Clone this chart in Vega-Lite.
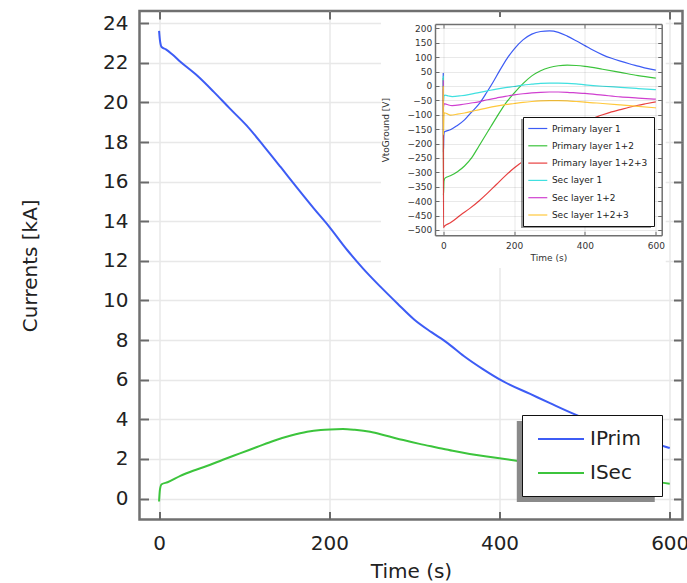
{
  "$schema": "https://vega.github.io/schema/vega-lite/v6.json",
  "width": 543,
  "height": 508.5,
  "autosize": {"type": "none"},
  "padding": {"left": 139.5, "top": 11, "right": 4.5, "bottom": 63.5},
  "background": "white",
  "config": {
    "font": "DejaVu Sans",
    "view": {"stroke": "#707070", "strokeWidth": 2.5},
    "axis": {"labelFont": "DejaVu Sans", "titleFont": "DejaVu Sans", "titleFontWeight": "normal", "labelColor": "#222", "titleColor": "#222", "tickColor": "#6a6a6a", "domainColor": "#707070", "labelOverlap": false, "labelFlush": false, "gridColor": "#e8e8e8"},
    "legend": {"labelFont": "DejaVu Sans", "labelColor": "#222"}
  },
  "datasets": {
    "currents": [
      {"t": 0, "I": 23.62, "s": "IPrim"}, {"t": 1, "I": 23.15, "s": "IPrim"}, {"t": 3, "I": 22.8, "s": "IPrim"}, {"t": 8, "I": 22.68, "s": "IPrim"},
      {"t": 15, "I": 22.45, "s": "IPrim"}, {"t": 25, "I": 22.06, "s": "IPrim"}, {"t": 45, "I": 21.35, "s": "IPrim"}, {"t": 64, "I": 20.55, "s": "IPrim"},
      {"t": 83, "I": 19.7, "s": "IPrim"}, {"t": 103, "I": 18.83, "s": "IPrim"}, {"t": 123, "I": 17.8, "s": "IPrim"}, {"t": 143, "I": 16.73, "s": "IPrim"},
      {"t": 162, "I": 15.7, "s": "IPrim"}, {"t": 182, "I": 14.64, "s": "IPrim"}, {"t": 200, "I": 13.72, "s": "IPrim"}, {"t": 221, "I": 12.55, "s": "IPrim"},
      {"t": 240, "I": 11.6, "s": "IPrim"}, {"t": 260, "I": 10.7, "s": "IPrim"}, {"t": 280, "I": 9.85, "s": "IPrim"}, {"t": 300, "I": 9.03, "s": "IPrim"},
      {"t": 320, "I": 8.4, "s": "IPrim"}, {"t": 339, "I": 7.85, "s": "IPrim"}, {"t": 358, "I": 7.2, "s": "IPrim"}, {"t": 380, "I": 6.55, "s": "IPrim"},
      {"t": 405, "I": 5.9, "s": "IPrim"}, {"t": 436, "I": 5.28, "s": "IPrim"}, {"t": 460, "I": 4.8, "s": "IPrim"}, {"t": 490, "I": 4.22, "s": "IPrim"},
      {"t": 520, "I": 3.72, "s": "IPrim"}, {"t": 550, "I": 3.25, "s": "IPrim"}, {"t": 575, "I": 2.9, "s": "IPrim"}, {"t": 594, "I": 2.63, "s": "IPrim"},
      {"t": 600, "I": 2.55, "s": "IPrim"},
      {"t": 0, "I": -0.15, "s": "ISec"}, {"t": 1, "I": 0.45, "s": "ISec"}, {"t": 3, "I": 0.72, "s": "ISec"}, {"t": 10, "I": 0.82, "s": "ISec"},
      {"t": 25, "I": 1.14, "s": "ISec"}, {"t": 40, "I": 1.4, "s": "ISec"}, {"t": 56, "I": 1.64, "s": "ISec"}, {"t": 75, "I": 1.96, "s": "ISec"},
      {"t": 95, "I": 2.28, "s": "ISec"}, {"t": 115, "I": 2.6, "s": "ISec"}, {"t": 135, "I": 2.92, "s": "ISec"}, {"t": 155, "I": 3.18, "s": "ISec"},
      {"t": 174, "I": 3.37, "s": "ISec"}, {"t": 190, "I": 3.46, "s": "ISec"}, {"t": 201, "I": 3.49, "s": "ISec"}, {"t": 216, "I": 3.51, "s": "ISec"},
      {"t": 230, "I": 3.47, "s": "ISec"}, {"t": 248, "I": 3.37, "s": "ISec"}, {"t": 267, "I": 3.17, "s": "ISec"}, {"t": 287, "I": 2.95, "s": "ISec"},
      {"t": 306, "I": 2.76, "s": "ISec"}, {"t": 326, "I": 2.58, "s": "ISec"}, {"t": 345, "I": 2.41, "s": "ISec"}, {"t": 365, "I": 2.25, "s": "ISec"},
      {"t": 383, "I": 2.13, "s": "ISec"}, {"t": 400, "I": 2.03, "s": "ISec"}, {"t": 420, "I": 1.91, "s": "ISec"}, {"t": 450, "I": 1.72, "s": "ISec"},
      {"t": 500, "I": 1.39, "s": "ISec"}, {"t": 550, "I": 1.07, "s": "ISec"}, {"t": 593, "I": 0.79, "s": "ISec"}, {"t": 600, "I": 0.75, "s": "ISec"}
    ],
    "volts": [
      {"t": 0, "V": 45, "s": "Primary layer 1"}, {"t": 0.5, "V": -230, "s": "Primary layer 1"}, {"t": 1.5, "V": -175, "s": "Primary layer 1"}, {"t": 3, "V": -160, "s": "Primary layer 1"},
      {"t": 10, "V": -156, "s": "Primary layer 1"}, {"t": 20, "V": -152, "s": "Primary layer 1"}, {"t": 40, "V": -137, "s": "Primary layer 1"}, {"t": 60, "V": -118, "s": "Primary layer 1"},
      {"t": 76, "V": -96, "s": "Primary layer 1"}, {"t": 90, "V": -78, "s": "Primary layer 1"}, {"t": 104, "V": -58, "s": "Primary layer 1"}, {"t": 123, "V": -22, "s": "Primary layer 1"},
      {"t": 140, "V": 12, "s": "Primary layer 1"}, {"t": 160, "V": 55, "s": "Primary layer 1"}, {"t": 180, "V": 95, "s": "Primary layer 1"}, {"t": 200, "V": 128, "s": "Primary layer 1"},
      {"t": 225, "V": 160, "s": "Primary layer 1"}, {"t": 250, "V": 180, "s": "Primary layer 1"}, {"t": 275, "V": 189, "s": "Primary layer 1"}, {"t": 300, "V": 191, "s": "Primary layer 1"},
      {"t": 325, "V": 186, "s": "Primary layer 1"}, {"t": 350, "V": 173, "s": "Primary layer 1"}, {"t": 375, "V": 157, "s": "Primary layer 1"}, {"t": 400, "V": 140, "s": "Primary layer 1"},
      {"t": 425, "V": 123, "s": "Primary layer 1"}, {"t": 450, "V": 108, "s": "Primary layer 1"}, {"t": 475, "V": 96, "s": "Primary layer 1"}, {"t": 500, "V": 86, "s": "Primary layer 1"},
      {"t": 525, "V": 77, "s": "Primary layer 1"}, {"t": 550, "V": 69, "s": "Primary layer 1"}, {"t": 575, "V": 61, "s": "Primary layer 1"}, {"t": 600, "V": 55, "s": "Primary layer 1"},
      {"t": 0, "V": 28, "s": "Primary layer 1+2"}, {"t": 0.5, "V": -380, "s": "Primary layer 1+2"}, {"t": 2, "V": -330, "s": "Primary layer 1+2"}, {"t": 5, "V": -320, "s": "Primary layer 1+2"},
      {"t": 20, "V": -312, "s": "Primary layer 1+2"}, {"t": 40, "V": -298, "s": "Primary layer 1+2"}, {"t": 60, "V": -278, "s": "Primary layer 1+2"}, {"t": 80, "V": -250, "s": "Primary layer 1+2"},
      {"t": 100, "V": -210, "s": "Primary layer 1+2"}, {"t": 125, "V": -160, "s": "Primary layer 1+2"}, {"t": 150, "V": -110, "s": "Primary layer 1+2"}, {"t": 175, "V": -62, "s": "Primary layer 1+2"},
      {"t": 200, "V": -25, "s": "Primary layer 1+2"}, {"t": 225, "V": 8, "s": "Primary layer 1+2"}, {"t": 250, "V": 35, "s": "Primary layer 1+2"}, {"t": 275, "V": 53, "s": "Primary layer 1+2"},
      {"t": 300, "V": 64, "s": "Primary layer 1+2"}, {"t": 325, "V": 70, "s": "Primary layer 1+2"}, {"t": 350, "V": 72, "s": "Primary layer 1+2"}, {"t": 375, "V": 71, "s": "Primary layer 1+2"},
      {"t": 400, "V": 68, "s": "Primary layer 1+2"}, {"t": 450, "V": 58, "s": "Primary layer 1+2"}, {"t": 500, "V": 47, "s": "Primary layer 1+2"}, {"t": 550, "V": 36, "s": "Primary layer 1+2"},
      {"t": 600, "V": 27, "s": "Primary layer 1+2"},
      {"t": 0, "V": -10, "s": "Primary layer 1+2+3"}, {"t": 0.5, "V": -492, "s": "Primary layer 1+2+3"}, {"t": 3, "V": -487, "s": "Primary layer 1+2+3"}, {"t": 20, "V": -475, "s": "Primary layer 1+2+3"},
      {"t": 50, "V": -447, "s": "Primary layer 1+2+3"}, {"t": 75, "V": -425, "s": "Primary layer 1+2+3"}, {"t": 100, "V": -400, "s": "Primary layer 1+2+3"}, {"t": 125, "V": -372, "s": "Primary layer 1+2+3"},
      {"t": 150, "V": -342, "s": "Primary layer 1+2+3"}, {"t": 175, "V": -312, "s": "Primary layer 1+2+3"}, {"t": 200, "V": -285, "s": "Primary layer 1+2+3"}, {"t": 226, "V": -260, "s": "Primary layer 1+2+3"},
      {"t": 250, "V": -235, "s": "Primary layer 1+2+3"}, {"t": 275, "V": -210, "s": "Primary layer 1+2+3"}, {"t": 300, "V": -188, "s": "Primary layer 1+2+3"}, {"t": 325, "V": -168, "s": "Primary layer 1+2+3"},
      {"t": 350, "V": -150, "s": "Primary layer 1+2+3"}, {"t": 375, "V": -135, "s": "Primary layer 1+2+3"}, {"t": 400, "V": -122, "s": "Primary layer 1+2+3"}, {"t": 425, "V": -111, "s": "Primary layer 1+2+3"},
      {"t": 450, "V": -100, "s": "Primary layer 1+2+3"}, {"t": 475, "V": -90, "s": "Primary layer 1+2+3"}, {"t": 500, "V": -82, "s": "Primary layer 1+2+3"}, {"t": 525, "V": -74, "s": "Primary layer 1+2+3"},
      {"t": 550, "V": -67, "s": "Primary layer 1+2+3"}, {"t": 575, "V": -61, "s": "Primary layer 1+2+3"}, {"t": 600, "V": -55, "s": "Primary layer 1+2+3"},
      {"t": 0, "V": 35, "s": "Sec layer 1"}, {"t": 0.5, "V": -55, "s": "Sec layer 1"}, {"t": 2, "V": -35, "s": "Sec layer 1"}, {"t": 5, "V": -32, "s": "Sec layer 1"},
      {"t": 15, "V": -35, "s": "Sec layer 1"}, {"t": 25, "V": -37, "s": "Sec layer 1"}, {"t": 50, "V": -34, "s": "Sec layer 1"}, {"t": 75, "V": -29, "s": "Sec layer 1"},
      {"t": 100, "V": -23, "s": "Sec layer 1"}, {"t": 125, "V": -17, "s": "Sec layer 1"}, {"t": 150, "V": -11, "s": "Sec layer 1"}, {"t": 175, "V": -6, "s": "Sec layer 1"},
      {"t": 200, "V": -2, "s": "Sec layer 1"}, {"t": 225, "V": 3, "s": "Sec layer 1"}, {"t": 250, "V": 6, "s": "Sec layer 1"}, {"t": 275, "V": 9, "s": "Sec layer 1"},
      {"t": 300, "V": 10, "s": "Sec layer 1"}, {"t": 325, "V": 10, "s": "Sec layer 1"}, {"t": 350, "V": 9, "s": "Sec layer 1"}, {"t": 375, "V": 7, "s": "Sec layer 1"},
      {"t": 400, "V": 4, "s": "Sec layer 1"}, {"t": 450, "V": -1, "s": "Sec layer 1"}, {"t": 500, "V": -5, "s": "Sec layer 1"}, {"t": 550, "V": -9, "s": "Sec layer 1"},
      {"t": 600, "V": -13, "s": "Sec layer 1"},
      {"t": 0, "V": 20, "s": "Sec layer 1+2"}, {"t": 0.5, "V": -75, "s": "Sec layer 1+2"}, {"t": 2, "V": -62, "s": "Sec layer 1+2"}, {"t": 5, "V": -62, "s": "Sec layer 1+2"},
      {"t": 15, "V": -66, "s": "Sec layer 1+2"}, {"t": 25, "V": -68, "s": "Sec layer 1+2"}, {"t": 50, "V": -65, "s": "Sec layer 1+2"}, {"t": 75, "V": -60, "s": "Sec layer 1+2"},
      {"t": 100, "V": -55, "s": "Sec layer 1+2"}, {"t": 125, "V": -48, "s": "Sec layer 1+2"}, {"t": 150, "V": -42, "s": "Sec layer 1+2"}, {"t": 175, "V": -36, "s": "Sec layer 1+2"},
      {"t": 200, "V": -31, "s": "Sec layer 1+2"}, {"t": 225, "V": -27, "s": "Sec layer 1+2"}, {"t": 250, "V": -24, "s": "Sec layer 1+2"}, {"t": 275, "V": -22, "s": "Sec layer 1+2"},
      {"t": 300, "V": -21, "s": "Sec layer 1+2"}, {"t": 325, "V": -21, "s": "Sec layer 1+2"}, {"t": 350, "V": -22, "s": "Sec layer 1+2"}, {"t": 375, "V": -24, "s": "Sec layer 1+2"},
      {"t": 400, "V": -26, "s": "Sec layer 1+2"}, {"t": 450, "V": -32, "s": "Sec layer 1+2"}, {"t": 500, "V": -38, "s": "Sec layer 1+2"}, {"t": 550, "V": -42, "s": "Sec layer 1+2"},
      {"t": 600, "V": -46, "s": "Sec layer 1+2"},
      {"t": 0, "V": 0, "s": "Sec layer 1+2+3"}, {"t": 0.5, "V": -170, "s": "Sec layer 1+2+3"}, {"t": 1.5, "V": -110, "s": "Sec layer 1+2+3"}, {"t": 3, "V": -93, "s": "Sec layer 1+2+3"},
      {"t": 10, "V": -96, "s": "Sec layer 1+2+3"}, {"t": 20, "V": -101, "s": "Sec layer 1+2+3"}, {"t": 40, "V": -98, "s": "Sec layer 1+2+3"}, {"t": 60, "V": -94, "s": "Sec layer 1+2+3"},
      {"t": 80, "V": -88, "s": "Sec layer 1+2+3"}, {"t": 100, "V": -83, "s": "Sec layer 1+2+3"}, {"t": 125, "V": -76, "s": "Sec layer 1+2+3"}, {"t": 150, "V": -70, "s": "Sec layer 1+2+3"},
      {"t": 175, "V": -65, "s": "Sec layer 1+2+3"}, {"t": 200, "V": -61, "s": "Sec layer 1+2+3"}, {"t": 225, "V": -57, "s": "Sec layer 1+2+3"}, {"t": 250, "V": -54, "s": "Sec layer 1+2+3"},
      {"t": 275, "V": -52, "s": "Sec layer 1+2+3"}, {"t": 300, "V": -51, "s": "Sec layer 1+2+3"}, {"t": 325, "V": -51, "s": "Sec layer 1+2+3"}, {"t": 350, "V": -52, "s": "Sec layer 1+2+3"},
      {"t": 375, "V": -54, "s": "Sec layer 1+2+3"}, {"t": 400, "V": -56, "s": "Sec layer 1+2+3"}, {"t": 450, "V": -61, "s": "Sec layer 1+2+3"}, {"t": 500, "V": -66, "s": "Sec layer 1+2+3"},
      {"t": 550, "V": -71, "s": "Sec layer 1+2+3"}, {"t": 600, "V": -76, "s": "Sec layer 1+2+3"}
    ]
  },
  "layer": [
    {
      "layer": [
        {
          "data": {"values": [{}]},
          "mark": {"type": "rect", "fill": "white", "strokeWidth": 0},
          "encoding": {
            "x": {"datum": 260.7, "type": "quantitative", "axis": null},
            "x2": {"datum": 595.3},
            "y": {"datum": 24.32, "type": "quantitative", "axis": null},
            "y2": {"datum": 11.64}
          }
        },
        {
          "data": {"name": "currents"},
          "mark": {"type": "line", "strokeWidth": 2, "interpolate": "monotone"},
          "encoding": {
            "x": {"field": "t", "type": "quantitative",
              "scale": {"domain": [-23, 615], "nice": false, "zero": false},
              "axis": {"orient": "bottom", "values": [0, 200, 400, 600], "grid": true, "gridWidth": 1.5, "domain": false, "tickSize": -8, "tickWidth": 2, "labelPadding": 21.5, "labelFontSize": 20, "title": "Time (s)", "titleFontSize": 20, "titlePadding": 8}},
            "y": {"field": "I", "type": "quantitative",
              "scale": {"domain": [-1.06, 24.62], "nice": false, "zero": false},
              "axis": {"orient": "left", "values": [0, 2, 4, 6, 8, 10, 12, 14, 16, 18, 20, 22, 24], "grid": true, "gridWidth": 1.5, "domain": false, "tickSize": -9, "tickWidth": 2, "labelPadding": 20.5, "labelFontSize": 20, "title": "Currents [kA]", "titleFontSize": 20, "titlePadding": 62}},
            "color": {"field": "s", "type": "nominal",
              "scale": {"domain": ["IPrim", "ISec"], "range": ["#3d5cf5", "#3cc43c"]},
              "legend": {"title": null, "orient": "none", "legendX": 382.5, "legendY": 404, "strokeColor": "#111", "fillColor": "white", "padding": 13, "symbolType": "M-2.3,0H2.3M8.4,0", "symbolSize": 400, "symbolStrokeWidth": 2, "symbolOffset": 15, "labelFontSize": 20, "labelOffset": 18, "rowPadding": 13, "zindex": 2}}
          }
        },
        {
          "data": {"values": [{}]},
          "mark": {"type": "rect", "fill": "#8a8a8a", "strokeWidth": 0},
          "encoding": {
            "x": {"datum": 420.3, "type": "quantitative",
              "axis": {"orient": "top", "values": [0, 200, 400, 600], "labels": false, "grid": false, "domain": false, "tickSize": -8, "tickWidth": 2, "title": null}},
            "x2": {"datum": 582.4},
            "y": {"datum": 3.91, "type": "quantitative",
              "axis": {"orient": "right", "values": [0, 2, 4, 6, 8, 10, 12, 14, 16, 18, 20, 22, 24], "labels": false, "grid": false, "domain": false, "tickSize": -9, "tickWidth": 2, "title": null}},
            "y2": {"datum": -0.18}
          }
        }
      ],
      "resolve": {"axis": {"x": "independent", "y": "independent"}}
    },
    {
      "layer": [
        {
          "data": {"name": "volts"},
          "mark": {"type": "line", "strokeWidth": 1.2, "interpolate": "monotone"},
          "encoding": {
            "x": {"field": "t", "type": "quantitative",
              "scale": {"domain": [-23.3, 616.7], "range": [295.5, 522.2], "nice": false, "zero": false},
              "axis": {"orient": "bottom", "offset": -284.2, "values": [0, 200, 400, 600], "grid": false, "domain": true, "domainWidth": 1.5, "tickSize": -4, "tickWidth": 1, "labelPadding": 9.7, "labelFontSize": 9, "labelColor": "#333", "title": "Time (s)", "titleFontSize": 9, "titleColor": "#333", "titlePadding": 3, "zindex": 1}},
            "y": {"field": "V", "type": "quantitative",
              "scale": {"domain": [-518.4, 215], "range": [224.3, 13], "nice": false, "zero": false},
              "axis": {"orient": "left", "offset": -295.5, "values": [-500, -450, -400, -350, -300, -250, -200, -150, -100, -50, 0, 50, 100, 150, 200], "grid": true, "gridColor": "#000000", "gridOpacity": 0.085, "gridWidth": 1, "domain": true, "domainWidth": 1.5, "tickSize": -4, "tickWidth": 1, "labelPadding": 7.3, "labelFontSize": 9, "labelColor": "#333", "title": "VtoGround [V]", "titleFontSize": 9, "titleColor": "#333", "titlePadding": 16, "zindex": 1}},
            "color": {"field": "s", "type": "nominal",
              "scale": {"domain": ["Primary layer 1", "Primary layer 1+2", "Primary layer 1+2+3", "Sec layer 1", "Sec layer 1+2", "Sec layer 1+2+3"], "range": ["#3d5cf5", "#3cc43c", "#e84040", "#40e0e0", "#d040d0", "#ffc83c"]},
              "legend": {"title": null, "orient": "none", "legendX": 383.5, "legendY": 106, "strokeColor": "#111", "fillColor": "white", "padding": 6, "symbolType": "M-2.11,0H2.11", "symbolSize": 81, "symbolStrokeWidth": 1.2, "symbolOffset": 3.3, "labelFontSize": 9, "labelOffset": 8.6, "rowPadding": 6.3, "zindex": 2}}
          }
        },
        {
          "data": {"values": [{}]},
          "mark": {"type": "rect", "fill": "#999999", "strokeWidth": 0},
          "encoding": {
            "x": {"datum": 219.5, "type": "quantitative",
              "axis": {"orient": "top", "offset": -13, "values": [0, 200, 400, 600], "labels": false, "grid": true, "gridColor": "#000000", "gridOpacity": 0.085, "gridWidth": 1, "domain": true, "domainWidth": 1.5, "tickSize": -4, "tickWidth": 1, "title": null, "zindex": 1}},
            "x2": {"datum": 586.5},
            "y": {"datum": -114.7, "type": "quantitative",
              "axis": {"orient": "right", "offset": -20.8, "values": [-500, -450, -400, -350, -300, -250, -200, -150, -100, -50, 0, 50, 100, 150, 200], "labels": false, "grid": false, "domain": true, "domainWidth": 1.5, "tickSize": -4, "tickWidth": 1, "title": null, "zindex": 1}},
            "y2": {"datum": -493.1}
          }
        }
      ],
      "resolve": {"axis": {"x": "independent", "y": "independent"}}
    }
  ],
  "resolve": {"scale": {"x": "independent", "y": "independent", "color": "independent"}}
}
